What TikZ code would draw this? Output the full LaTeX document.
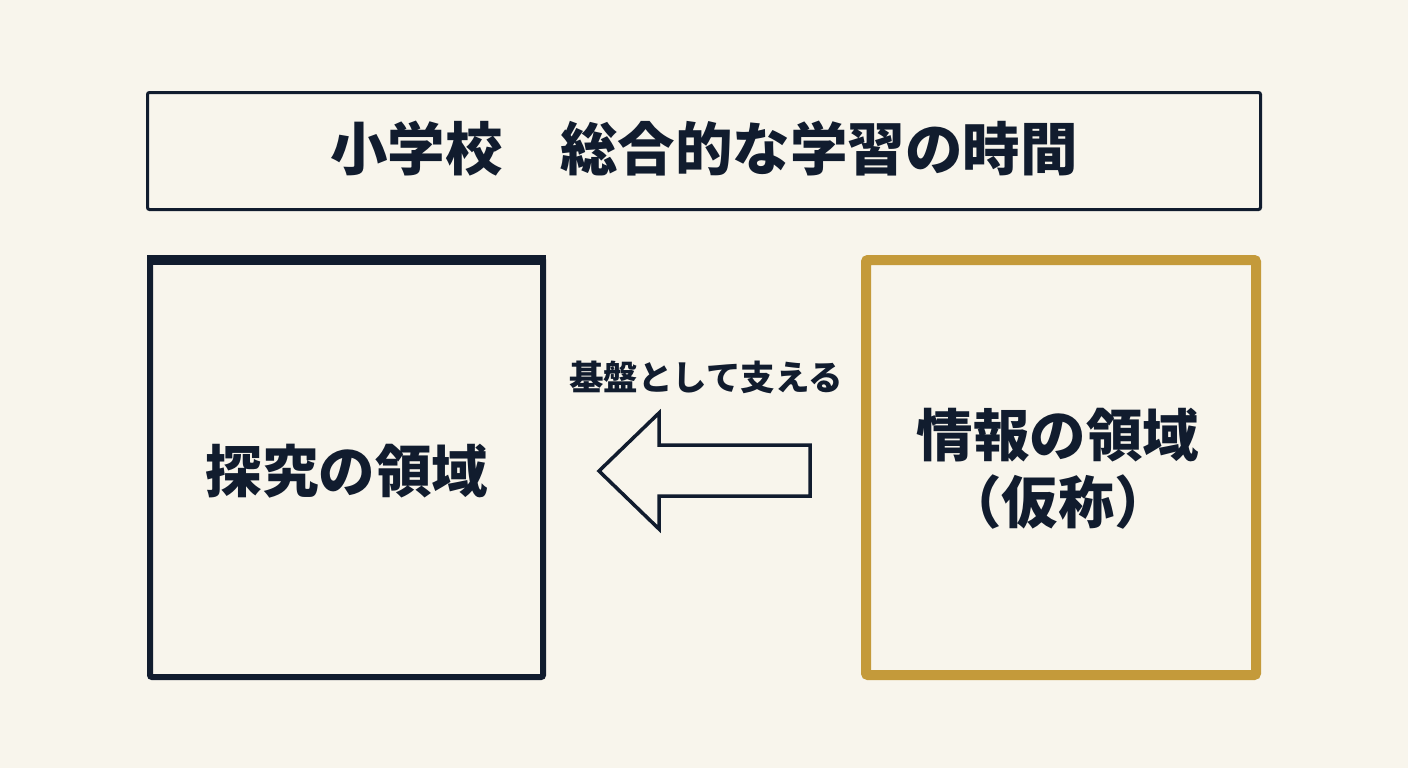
\documentclass[tikz,border=0pt]{standalone}
\usepackage{fontspec}
\newfontfamily\cjk{Noto Sans CJK JP}
\definecolor{bg}{HTML}{F8F5EC}
\definecolor{navy}{HTML}{111C2E}
\definecolor{gold}{HTML}{C49A3A}
\begin{document}
\begin{tikzpicture}[x=1pt,y=-1pt,
  every node/.style={font=\cjk\bfseries, text=navy, inner sep=0pt, outer sep=0pt},
  panel/.style={draw, rounded corners=2pt, align=center}]
\fill[bg] (0,0) rectangle (1408,768);
\useasboundingbox (0,0) rectangle (1408,768);
% title
\node[panel, draw=navy, line width=3pt, minimum width=1113pt, minimum height=117pt] (title) at (704,151) {};
\node[font=\cjk\bfseries\fontsize{57.5}{60}\selectfont] (ttext) at (704,149) {小学校　総合的な学習の時間};
% left panel
\node[panel, draw=navy, line width=6pt, minimum width=393pt, minimum height=419pt] (left) at (346.5,467.5) {};
\draw[navy, line width=10pt] ([yshift=-2pt,xshift=-3pt]left.north west) coordinate (lt1) -- ([yshift=-2pt,xshift=3pt]left.north east) coordinate (lt2);
\node[font=\cjk\bfseries\fontsize{56.5}{60}\selectfont] (ltext) at (347,471) {探究の領域};
% right panel
\node[panel, draw=gold, line width=10pt, minimum width=390pt, minimum height=415pt] (right) at (1061,467.5) {};
\node[align=center, font=\cjk\bfseries\fontsize{56.5}{67}\selectfont] (rtext) at (1058,469) {情報の領域\\（仮称）};
% arrow
\coordinate (tip) at (599,471);
\draw[navy, line width=3.5pt, fill=bg, line join=miter] (tip) -- (659,413) -- (659,445) -- (810,445) -- (810,496) -- (659,496) -- (659,529) -- cycle;
\node[font=\cjk\bfseries\fontsize{34.5}{36}\selectfont] (lbl) at (706,377) {基盤として支える};
\end{tikzpicture}
\end{document}
